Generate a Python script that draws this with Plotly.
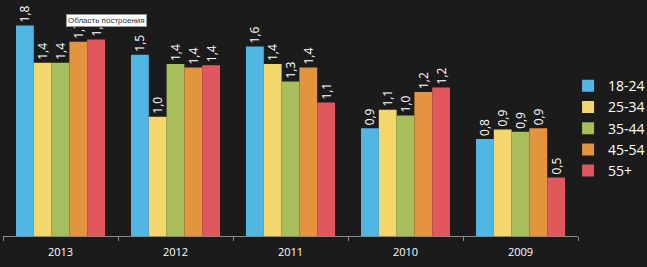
import plotly.graph_objects as go

years = ["2013", "2012", "2011", "2010", "2009"]
series = ["18-24", "25-34", "35-44", "45-54", "55+"]
colors = ["#52b6e4", "#f3d76c", "#a8bd5b", "#e4933f", "#e0575d"]

v_18_24 = [1.80, 1.55, 1.62, 0.92, 0.83]
v_25_34 = [1.48, 1.02, 1.47, 1.08, 0.91]
v_35_44 = [1.48, 1.47, 1.32, 1.03, 0.89]
v_45_54 = [1.66, 1.44, 1.44, 1.23, 0.92]
v_55 = [1.68, 1.46, 1.14, 1.27, 0.50]

t_18_24 = ["1,8", "1,5", "1,6", "0,9", "0,8"]
t_25_34 = ["1,4", "1,0", "1,4", "1,1", "0,9"]
t_35_44 = ["1,4", "1,4", "1,3", "1,0", "0,9"]
t_45_54 = ["1,7", "1,4", "1,4", "1,2", "0,9"]
t_55 = ["1,7", "1,4", "1,1", "1,2", "0,5"]

values = [v_18_24, v_25_34, v_35_44, v_45_54, v_55]
texts = [t_18_24, t_25_34, t_35_44, t_45_54, t_55]

font_family = "Open Sans, DejaVu Sans, sans-serif"

fig = go.Figure()
for name, vals, txt, col in zip(series, values, texts, colors):
    fig.add_trace(go.Bar(
        x=years, y=vals, name=name, marker=dict(color=col, line=dict(width=0)),
        text=txt, textposition="outside", textangle=-90,
        textfont=dict(color="white", size=12, family=font_family),
        constraintext="none", cliponaxis=False,
    ))

fig.update_layout(
    width=647, height=267,
    barmode="group", bargap=0.226, bargroupgap=0,
    paper_bgcolor="#1b1b1b", plot_bgcolor="#1b1b1b",
    margin=dict(l=3, r=69, t=0, b=31, autoexpand=False),
    font=dict(family=font_family, color="white"),
    showlegend=True,
    legend=dict(
        xref="container", yref="container",
        x=0.878, xanchor="left", y=0.737, yanchor="top",
        font=dict(size=14, color="white", family=font_family),
        bgcolor="rgba(0,0,0,0)", itemwidth=30, tracegroupgap=0,
    ),
    xaxis=dict(
        showline=True, linecolor="#8a8a8a", linewidth=1,
        ticks="outside", tickson="boundaries", ticklen=4, tickcolor="#8a8a8a",
        tickfont=dict(size=11, color="white", family=font_family),
        ticklabelstandoff=6,
        showgrid=False, zeroline=False,
    ),
    yaxis=dict(
        range=[0, 2.017], visible=False, showgrid=False, zeroline=False,
    ),
    annotations=[dict(
        text="Область построения", xref="paper", yref="paper",
        x=0.180, y=0.915, xanchor="center", yanchor="middle",
        showarrow=False, bgcolor="white", bordercolor="#9a9a9a", borderwidth=1,
        borderpad=1, font=dict(size=8, color="#333333", family="Liberation Sans, Arial, sans-serif"),
    )],
)

fig.write_html("out.html")
